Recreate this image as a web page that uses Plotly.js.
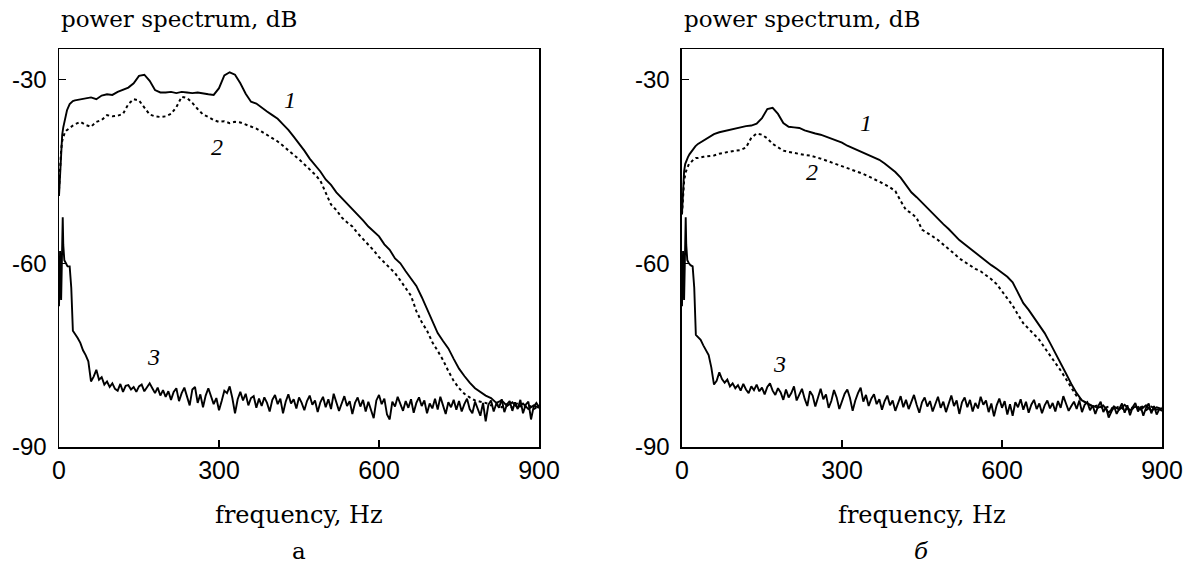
<!DOCTYPE html>
<html>
<head>
<meta charset="utf-8">
<script src="https://cdn.plot.ly/plotly-3.0.1.min.js"></script>
<style>html,body{margin:0;padding:0;background:#fff;}#chart{width:1188px;height:566px;}</style>
</head>
<body>
<div id="chart"></div>
<script>
// ---------- data (frequency, Hz ; power spectrum, dB) ----------
// Panel а
const aCurve1HeadF = [0, 2, 4, 6, 8, 11, 15, 20, 26];
const aCurve1HeadY = [-49, -45, -41, -39, -37.8, -36.5, -35, -34, -33.5];
const aCurve1Start = 30, aCurve1Step = 10;
const aCurve1Y = [-33.4,-33.2,-33.0,-32.9,-33.2,-32.6,-32.4,-32.5,-32.0,-31.6,-31.3,-30.6,-29.4,-29.2,-30.2,-31.7,-32.1,-32.1,-32.0,-32.2,-32.0,-32.1,-32.2,-32.1,-32.3,-32.4,-32.5,-31.4,-29.3,-28.8,-29.2,-30.6,-32.3,-33.6,-33.9,-34.6,-35.2,-35.8,-36.4,-37.3,-38.2,-39.3,-40.4,-41.6,-42.9,-43.9,-45.0,-46.3,-47.2,-48.4,-49.3,-50.2,-51.2,-52.0,-53.0,-54.0,-54.8,-55.6,-56.9,-57.8,-59.2,-60.0,-61.3,-62.5,-63.7,-65.5,-67.4,-69.4,-71.4,-72.7,-73.9,-75.6,-77.2,-78.4,-79.5,-80.4,-81.0,-81.6,-82.0,-82.8,-82.4,-83.3,-82.7,-83.6,-82.9,-83.8,-83.2,-83.6];

const aCurve2HeadF = [0, 2, 4, 6, 8, 11, 14, 18, 22, 26];
const aCurve2HeadY = [-48, -44, -41.5, -40, -39.4, -38.6, -38.3, -38, -37.8, -37.5];
const aCurve2Start = 30, aCurve2Step = 10;
const aCurve2Y = [-37.3,-36.9,-37.4,-37.7,-36.9,-36.6,-35.8,-36.0,-35.9,-35.6,-34.0,-33.2,-33.4,-34.6,-35.7,-36.0,-36.1,-36.0,-35.6,-34.5,-32.8,-33.0,-33.8,-34.8,-35.7,-36.1,-36.6,-36.9,-36.8,-37.1,-36.9,-37.0,-37.3,-37.6,-38.0,-38.5,-39.0,-39.5,-40.1,-40.8,-41.6,-42.3,-43.0,-43.8,-44.6,-45.5,-46.5,-48.6,-50.4,-51.3,-52.5,-53.3,-54.0,-55.1,-56.0,-57.0,-57.9,-59.0,-59.9,-60.8,-61.6,-62.8,-64.1,-65.3,-67.8,-69.6,-71.0,-72.9,-74.3,-75.8,-77.6,-79.2,-80.4,-81.3,-81.9,-82.4,-82.6,-82.8,-83.2,-82.9,-83.5,-83.0,-83.6,-82.8,-83.7,-83.1,-83.8,-83.3];

const aCurve3HeadF = [0, 2, 4, 6, 7, 8, 10, 13, 16, 20, 23, 26, 30];
const aCurve3HeadY = [-67, -58, -66, -55, -52.5, -57, -59.5, -60, -60.5, -60.5, -64, -71, -71.5];
const aCurve3Start = 35, aCurve3Step = 5;
const aCurve3Y = [-72.2,-73,-74.2,-75,-76,-79.3,-78.5,-77.4,-79,-78.6,-79.8,-79.3,-80.2,-79.6,-80.5,-80.8,-79.7,-81,-80,-79.9,-80.6,-80.2,-81,-80.1,-79.8,-80.9,-80.3,-79.6,-80.4,-81.2,-80.3,-81.6,-80.7,-81.8,-80.9,-82.3,-81,-80.4,-82.5,-81.2,-80.3,-81.7,-83.2,-80.6,-80.2,-82.8,-81.4,-83.5,-81.6,-80.4,-81.9,-83,-82,-84,-82.5,-80.8,-81.2,-80.1,-82,-84.5,-82.2,-81,-82.4,-81.3,-83.2,-82,-81.7,-83.6,-82.1,-83.3,-81.9,-82.8,-84.2,-82.3,-81.5,-83,-82.1,-84.5,-82.6,-81.4,-82.9,-82.2,-83.7,-81.9,-82.8,-84,-82.5,-81.6,-83.1,-82.4,-84.3,-82.7,-81.8,-83.5,-82.2,-83.8,-81.3,-82.6,-84.1,-82.9,-81.7,-83.3,-82.5,-84.6,-82.8,-81.9,-83.4,-82.3,-84.2,-82.6,-83.8,-85.3,-82.4,-81.5,-83,-82.1,-84.7,-85.5,-82.6,-83.4,-81.8,-82.9,-84.1,-82.5,-83.6,-82.2,-84.4,-82.8,-81.9,-83.3,-82.4,-84.5,-82.9,-83.7,-82.1,-83.9,-81.8,-83.2,-84.6,-82.7,-83.5,-82.3,-83.9,-82.5,-84.2,-83,-82.1,-83.8,-84.5,-82.6,-83.7,-84.9,-82.8,-85.8,-83.1,-82.4,-84.2,-82.9,-83.6,-82.2,-84.3,-83,-82.5,-84.1,-82.7,-83.8,-82.3,-84.5,-83.1,-82.6,-85.5,-83.4,-82.8,-83.5];

// Panel б
const bCurve1HeadF = [0, 2, 4, 6, 8, 11, 14, 17, 20, 25];
const bCurve1HeadY = [-52, -48, -45, -43.8, -43.2, -42.7, -42.2, -41.8, -41.4, -40.9];
const bCurve1Start = 30, bCurve1Step = 10;
const bCurve1Y = [-40.5,-40.0,-39.4,-38.9,-38.6,-38.4,-38.2,-37.9,-37.7,-37.6,-37.5,-37.2,-36.3,-34.8,-34.6,-35.6,-37.1,-37.7,-37.8,-37.9,-38.3,-38.6,-38.8,-39.0,-39.3,-39.6,-40.0,-40.3,-40.8,-41.2,-41.6,-42.0,-42.4,-42.8,-43.1,-43.7,-44.4,-45.1,-46.0,-47.1,-48.4,-49.2,-50.1,-51.0,-51.9,-52.7,-53.6,-54.4,-55.3,-56.2,-56.9,-57.6,-58.3,-58.9,-59.7,-60.3,-60.9,-61.5,-62.2,-63.1,-64.7,-66.5,-67.6,-68.8,-70.0,-71.4,-73.0,-74.6,-76.3,-78.0,-79.7,-81.2,-82.4,-82.9,-83.3,-83.6,-83.2,-84.4,-83.4,-83.9,-83.1,-84.0,-83.4,-83.9,-83.2,-84.1,-83.5,-83.8];

const bCurve2HeadF = [0, 2, 4, 7, 10, 13, 17, 22, 26];
const bCurve2HeadY = [-52, -49, -46.5, -45.1, -44.3, -43.8, -43.5, -43.0, -42.8];
const bCurve2Start = 30, bCurve2Step = 10;
const bCurve2Y = [-42.8,-42.6,-42.5,-42.4,-42.1,-41.9,-41.8,-41.6,-41.5,-41.1,-39.5,-38.8,-39.0,-39.6,-40.5,-41.1,-41.6,-41.8,-42.0,-42.1,-42.3,-42.4,-42.6,-42.9,-43.2,-43.5,-43.9,-44.2,-44.5,-44.8,-45.0,-45.4,-45.8,-46.2,-46.6,-47.1,-47.6,-48.2,-49.8,-51.3,-51.8,-52.6,-54.5,-55.0,-55.6,-56.2,-56.9,-57.7,-58.4,-59.2,-59.8,-60.4,-60.9,-61.3,-61.9,-62.6,-63.4,-64.6,-65.6,-66.9,-68.4,-69.8,-70.7,-71.6,-72.5,-73.8,-75.0,-76.3,-77.5,-78.9,-80.4,-81.7,-82.4,-82.9,-83.4,-83.2,-83.7,-83.4,-83.9,-83.3,-84.0,-83.5,-83.8,-83.2,-84.0,-83.4,-83.9,-83.6];

const bCurve3HeadF = [0, 2, 4, 6, 7, 8, 10, 13, 16, 20, 23, 26, 30];
const bCurve3HeadY = [-67, -58, -66, -55, -52.5, -57, -59.5, -60, -60.3, -60.5, -64, -71.7, -72];
const bCurve3Start = 35, bCurve3Step = 5;
const bCurve3Y = [-72.5,-73.4,-74.2,-75,-77,-79.8,-79.2,-77.8,-78.9,-79.5,-79,-80.1,-79.6,-80.4,-79.9,-80.8,-79.7,-80.6,-81.2,-80.1,-80.7,-79.8,-80.9,-80.3,-81.4,-80.2,-79.6,-80.8,-81.5,-80.4,-81.1,-82.3,-80.6,-81.9,-81.2,-80.1,-82.4,-81.3,-80.5,-82.1,-83.3,-80.9,-81.6,-83.4,-81.8,-80.5,-82.2,-81.4,-83.6,-82.5,-80.7,-81.9,-83.8,-82.7,-81.3,-80.6,-82,-84.1,-82.4,-81.2,-80.3,-82.6,-81.5,-83.3,-82.1,-81.4,-83,-82.2,-83.9,-82.5,-81.6,-83.2,-82.4,-84.1,-82.8,-81.7,-83.5,-82.3,-83.8,-82.6,-81.5,-83.1,-84.4,-82.7,-81.9,-83.4,-82.5,-84.2,-82.8,-81.8,-83.6,-82.6,-84.3,-82.9,-81.6,-83.3,-82.4,-84.6,-82.7,-81.9,-83.5,-82.3,-84.2,-82.8,-83.7,-81.8,-83.1,-82.4,-84.3,-82.9,-85,-83.2,-82.1,-83.6,-82.5,-84.7,-83,-84.9,-82.7,-83.5,-82.2,-83.9,-82.6,-84.4,-83.1,-82.3,-83.8,-82.9,-84.5,-83.2,-82.4,-83.7,-82.8,-84.2,-82.5,-83.6,-81.7,-82.9,-84.1,-83.3,-82.6,-83.8,-82.4,-84.3,-83.1,-82.7,-84,-83.2,-84.6,-83.4,-82.6,-84.3,-83.5,-85.2,-84.1,-83.3,-84.6,-83.7,-82.9,-84.4,-83.2,-84.8,-83.5,-82.8,-84.2,-83.4,-84.9,-83.6,-82.9,-84.5,-83.3,-84.7,-83.8,-84.1];

const xTicks = [0, 300, 600, 900];
const yTicks = [-30, -60, -90];
const panelLetters = ['а', 'б'];
const curveNames = ['1', '2', '3'];
// label anchor points (Hz, dB) for the curve numbers
const aLabelF = [433, 296, 177], aLabelY = [-33.4, -41.0, -75.3];
const bLabelF = [345, 243, 183], bLabelY = [-37.1, -45.1, -76.4];

// ---------- build ----------
function series(headF, headY, start, step, vals) {
  const x = headF.slice(), y = headY.slice();
  for (let i = 0; i < vals.length; i++) { x.push(start + i * step); y.push(vals[i]); }
  return {x, y};
}
const solid = {color: '#000', width: 1.9};
const dotted = {color: '#000', width: 2, dash: 'dot'};
function tr(s, line, xa, ya) {
  return {x: s.x, y: s.y, type: 'scatter', mode: 'lines', line: line, xaxis: xa, yaxis: ya, hoverinfo: 'skip', showlegend: false};
}
const data = [
  tr(series(aCurve3HeadF, aCurve3HeadY, aCurve3Start, aCurve3Step, aCurve3Y), solid, 'x', 'y'),
  tr(series(aCurve2HeadF, aCurve2HeadY, aCurve2Start, aCurve2Step, aCurve2Y), dotted, 'x', 'y'),
  tr(series(aCurve1HeadF, aCurve1HeadY, aCurve1Start, aCurve1Step, aCurve1Y), solid, 'x', 'y'),
  tr(series(bCurve3HeadF, bCurve3HeadY, bCurve3Start, bCurve3Step, bCurve3Y), solid, 'x2', 'y2'),
  tr(series(bCurve2HeadF, bCurve2HeadY, bCurve2Start, bCurve2Step, bCurve2Y), dotted, 'x2', 'y2'),
  tr(series(bCurve1HeadF, bCurve1HeadY, bCurve1Start, bCurve1Step, bCurve1Y), solid, 'x2', 'y2')
];

const sans = 'Liberation Sans, Arial, sans-serif';
const serif = 'DejaVu Serif, serif';
function xAxis(domain, anchor) {
  return {domain: domain, anchor: anchor, range: [0, 900], tickvals: xTicks, ticktext: xTicks.map(String),
    ticks: 'inside', ticklen: 7, tickwidth: 1.2, tickcolor: '#000', showline: true, mirror: true, linecolor: '#000', linewidth: 1.5,
    showgrid: false, zeroline: false, tickfont: {family: sans, size: 25, color: '#000'}, fixedrange: true};
}
function yAxis(anchor) {
  return {anchor: anchor, range: [-90, -25], tickvals: yTicks, ticktext: yTicks.map(String),
    ticks: 'inside', ticklen: 7, tickwidth: 1.2, tickcolor: '#000', showline: true, mirror: true, linecolor: '#000', linewidth: 1.5,
    showgrid: false, zeroline: false, tickfont: {family: sans, size: 24, color: '#000'}, fixedrange: true, ticklabelstandoff: 6};
}
const dom1 = [0, 0.4352], dom2 = [0.5648, 1];
const ann = [];
[[dom1, 'x', 'y', aLabelF, aLabelY, panelLetters[0]], [dom2, 'x2', 'y2', bLabelF, bLabelY, panelLetters[1]]].forEach(function (p) {
  const d = p[0], cx = (d[0] + d[1]) / 2;
  ann.push({text: 'power spectrum, dB', xref: 'paper', yref: 'paper', x: d[0], y: 1.075, xanchor: 'left', yanchor: 'middle', showarrow: false,
    font: {family: serif, size: 23, color: '#000'}});
  ann.push({text: 'frequency, Hz', xref: 'paper', yref: 'paper', x: cx, y: -0.171, xanchor: 'center', yanchor: 'middle', showarrow: false,
    font: {family: serif, size: 24, color: '#000'}});
  ann.push({text: p[5], xref: 'paper', yref: 'paper', x: cx, y: -0.262, xanchor: 'center', yanchor: 'middle', showarrow: false,
    font: {family: serif, size: 23, color: '#000', style: p[5] === 'б' ? 'italic' : 'normal'}});
  for (let i = 0; i < 3; i++) {
    ann.push({text: curveNames[i], xref: p[1], yref: p[2], x: p[3][i], y: p[4][i], xanchor: 'center', yanchor: 'middle', showarrow: false,
      font: {family: 'Liberation Serif, serif', size: 24, color: '#000', style: 'italic'}});
  }
});

const layout = {
  width: 1188, height: 566, margin: {l: 59, r: 26, t: 49, b: 119, pad: 0},
  paper_bgcolor: '#fff', plot_bgcolor: '#fff', showlegend: false,
  xaxis: xAxis(dom1, 'y'), yaxis: yAxis('x'),
  xaxis2: xAxis(dom2, 'y2'), yaxis2: yAxis('x2'),
  annotations: ann
};
Plotly.newPlot('chart', data, layout, {displayModeBar: false, staticPlot: true});
</script>
</body>
</html>
